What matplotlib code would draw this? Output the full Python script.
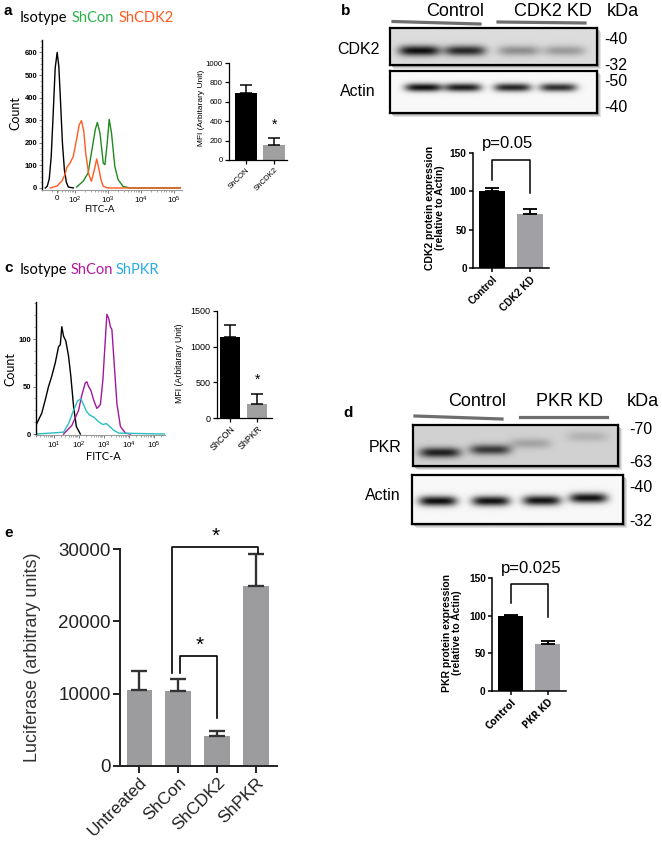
import numpy as np
import matplotlib
matplotlib.use('Agg')
import matplotlib.pyplot as plt
from matplotlib.patches import Rectangle
from matplotlib.lines import Line2D
from matplotlib.ticker import FixedLocator, AutoMinorLocator

plt.rcParams['font.family'] = ['Liberation Sans', 'DejaVu Sans']
plt.rcParams['mathtext.default'] = 'regular'

# ---------------- data ----------------
# panel a: flow histogram (x in decades of FITC-A, y = count)
a_iso_t = [1.10, 1.16, 1.22, 1.28, 1.34, 1.40, 1.46, 1.51, 1.56, 1.62, 1.68, 1.74, 1.80, 1.95]
a_iso_c = [0, 8, 40, 140, 330, 530, 600, 540, 390, 200, 80, 25, 4, 0]
a_con_t = [2.05, 2.25, 2.40, 2.55, 2.62, 2.68, 2.76, 2.86, 2.91, 2.98, 3.04, 3.11, 3.21, 3.31, 3.46, 3.67, 5.20]
a_con_c = [4, 30, 66, 199, 260, 290, 243, 110, 103, 199, 304, 243, 96, 37, 7, 0, 0]
a_cdk_t = [1.25, 1.45, 1.60, 1.70, 1.75, 1.85, 1.95, 2.05, 2.13, 2.20, 2.27, 2.33, 2.42, 2.50, 2.58, 2.66, 2.72, 2.79, 2.86, 3.0, 5.20]
a_cdk_c = [0, 8, 30, 60, 90, 110, 140, 215, 280, 298, 250, 150, 60, 30, 75, 128, 90, 37, 7, 0, 0]

# panel a: MFI bars
a_bar_lab = ['ShCON', 'ShCDK2']
a_bar_val = [690, 150]
a_bar_err = [770, 230]

# panel b: blot band intensities and quantification
b_cdk2_band = [0.80, 0.70, 0.30, 0.25]
b_actin_band = [0.90, 0.85, 0.82, 0.78]
b_bar_lab = ['Control', 'CDK2 KD']
b_bar_val = [100, 70]
b_bar_err = [104, 77]

# panel c: flow histogram
c_iso_t = [0.33, 0.53, 0.67, 0.80, 0.93, 1.07, 1.20, 1.27, 1.33, 1.40, 1.49, 1.60, 1.69, 1.80, 1.91, 2.07]
c_iso_c = [11, 22, 36, 50, 61, 75, 92, 94, 113, 103, 98, 82, 61, 29, 8, 0]
c_con_t = [1.40, 1.73, 2.00, 2.13, 2.27, 2.33, 2.40, 2.49, 2.60, 2.73, 2.87, 2.97, 3.05, 3.13, 3.20, 3.27, 3.33, 3.43, 3.53, 3.67, 3.87, 4.07]
c_con_c = [0, 9, 25, 41, 54, 55, 50, 46, 36, 27, 31, 57, 92, 126, 122, 113, 110, 71, 32, 8, 1, 0]
c_pkr_t = [0.31, 0.87, 1.40, 1.60, 1.80, 1.96, 2.09, 2.20, 2.31, 2.44, 2.60, 2.80, 2.97, 3.11, 3.24, 3.40, 3.60, 5.45]
c_pkr_c = [0, 1, 2, 11, 25, 35, 37, 31, 24, 20, 18, 13, 10, 11, 8, 4, 1, 0]

c_bar_lab = ['ShCON', 'ShPKR']
c_bar_val = [1140, 190]
c_bar_err = [1300, 340]

# panel d
d_pkr_band = [0.70, 0.60, 0.18, 0.12]
d_actin_band = [0.92, 0.90, 0.90, 0.90]
d_bar_lab = ['Control', 'PKR KD']
d_bar_val = [100, 62]
d_bar_err = [101, 66]

# panel e
e_lab = ['Untreated', 'ShCon', 'ShCDK2', 'ShPKR']
e_val = [10500, 10300, 4200, 24900]
e_err = [13100, 12000, 4900, 29300]

# ---------------- helpers ----------------
W, H = 662, 844
fig = plt.figure(figsize=(W / 100, H / 100), dpi=100)


def px_ax(x0, y0, x1, y1):
    return fig.add_axes([x0 / W, 1 - y1 / H, (x1 - x0) / W, (y1 - y0) / H])


def px_text(x, y, s, **kw):
    kw.setdefault('ha', 'left')
    kw.setdefault('va', 'center')
    return fig.text(x / W, 1 - y / H, s, **kw)


def px_line(xs, ys, **kw):
    fig.add_artist(Line2D([x / W for x in xs], [1 - y / H for y in ys], **kw))


def bar_chart(ax, labels, vals, errs, colors, width, ylim, yticks, fs, bold, cap, lw=1.0, ecol='black', lab_fs=None):
    x = np.arange(len(vals))
    ax.bar(x, vals, width, color=colors, edgecolor='none', zorder=2)
    up = np.array(errs) - np.array(vals)
    ax.errorbar(x, vals, yerr=[np.zeros(len(vals)), up], fmt='none', ecolor=ecol,
                elinewidth=lw * 1.2, capsize=cap, capthick=lw * 1.2, zorder=3)
    ax.set_ylim(*ylim)
    ax.set_yticks(yticks)
    ax.set_xticks(x)
    fw = 'bold' if bold else 'normal'
    ax.set_yticklabels([str(t) for t in yticks], fontsize=fs, fontweight=fw)
    ax.set_xticklabels(labels, rotation=45, ha='right', rotation_mode='anchor',
                       fontsize=lab_fs or fs, fontweight=fw)
    for s in ['top', 'right']:
        ax.spines[s].set_visible(False)
    for s in ['left', 'bottom']:
        ax.spines[s].set_linewidth(lw)
    ax.tick_params(width=lw, length=3, pad=1.5)
    ax.patch.set_alpha(0)


def histo(ax, curves, xlim, ylim, yticks, xticks, xticklabels):
    for t, c, col in curves:
        ax.plot(t, c, color=col, lw=1.0)
    ax.set_xlim(*xlim)
    ax.set_ylim(*ylim)
    ax.set_yticks(yticks)
    ax.set_yticklabels([str(v) for v in yticks], fontsize=5.5, fontweight='bold')
    ax.set_xticks(xticks)
    ax.set_xticklabels(xticklabels, fontsize=5.8)
    minors = [k + np.log10(m) for k in range(0, 6) for m in range(2, 10)]
    ax.xaxis.set_minor_locator(FixedLocator([v for v in minors if xlim[0] < v < xlim[1]]))
    ax.yaxis.set_minor_locator(AutoMinorLocator(4))
    for s in ['top', 'right']:
        ax.spines[s].set_visible(False)
    ax.spines['left'].set_linewidth(1.0)
    ax.spines['bottom'].set_color('#999999')
    ax.spines['bottom'].set_linewidth(0.8)
    ax.tick_params(axis='both', which='major', length=2.5, width=0.6, pad=1.0, color='#666666')
    ax.tick_params(axis='both', which='minor', length=1.5, width=0.5, color='#888888')
    ax.patch.set_alpha(0)


def blot(x0, y0, x1, y1, levels, lane_x, lane_y, band_w, band_h, bg):
    for off, col in [(4, '#e2e2e2'), (3, '#c8c8c8'), (2, '#a8a8a8')]:
        fig.add_artist(Rectangle(((x0 + off) / W, 1 - (y1 + off) / H), (x1 - x0) / W, (y1 - y0) / H,
                                 transform=fig.transFigure, facecolor=col, edgecolor='none', zorder=0))
    ax = px_ax(x0, y0, x1, y1)
    w, h = int(x1 - x0), int(y1 - y0)
    xx, yy = np.meshgrid(np.arange(w), np.arange(h))
    img = np.full((h, w), bg, dtype=float)
    for lev, cx, cy in zip(levels, lane_x, lane_y):
        img -= lev * np.exp(-np.abs((xx - cx * w) / (band_w * w / 2)) ** 4) \
                   * np.exp(-((yy - cy * h) / (band_h * h / 2)) ** 2)
    ax.imshow(np.clip(img, 0, 1), cmap='gray', vmin=0, vmax=1, aspect='auto', interpolation='bilinear')
    ax.set_xticks([])
    ax.set_yticks([])
    for s in ax.spines.values():
        s.set_linewidth(1.6)
    ax.set_zorder(2)
    return ax


def bracket(ax, x0, x1, y_top, y0, y1, lw=1.0):
    ax.plot([x0, x0, x1, x1], [y0, y_top, y_top, y1], color='black', lw=lw, clip_on=False, zorder=4)


# ---------------- panel a ----------------
px_text(4, 11, 'a', fontsize=11, fontweight='bold')
px_text(20, 18, 'Isotype', fontsize=10.5, family=['Lato', 'DejaVu Sans'])
px_text(72, 18, 'ShCon', fontsize=10.5, color='#2bb34a', family=['Lato', 'DejaVu Sans'])
px_text(119, 18, 'ShCDK2', fontsize=10.5, color='#ff5a1f', family=['Lato', 'DejaVu Sans'])

ax = px_ax(42, 40, 182, 190)
histo(ax, [(a_iso_t, a_iso_c, 'black'), (a_con_t, a_con_c, '#1f8a1f'), (a_cdk_t, a_cdk_c, '#ff5a1f')],
      (1.0, 5.25), (-9, 655), [0, 100, 200, 300, 400, 500, 600],
      [1.45, 2, 3, 4, 5], ['0', '$10^2$', '$10^3$', '$10^4$', '$10^5$'])
px_text(15, 113, 'Count', fontsize=9, rotation=90, ha='center', family=['Lato', 'DejaVu Sans'])
px_text(99, 210, 'FITC-A', fontsize=7, ha='center', family=['Lato', 'DejaVu Sans'])

ax = px_ax(229, 63, 287, 160)
bar_chart(ax, a_bar_lab, a_bar_val, a_bar_err, ['black', '#a0a0a0'], 0.78, (0, 1000),
          [0, 200, 400, 600, 800, 1000], 5.6, False, 4.5, lw=0.9)
ax.set_xlim(-0.6, 1.46)
ax.text(1, 360, '*', fontsize=10, ha='center', va='center')
px_text(201, 108, 'MFI (Arbitarary Unit)', fontsize=6, rotation=90, ha='center')

# ---------------- panel b ----------------
px_text(341, 11, 'b', fontsize=11, fontweight='bold')
px_text(455, 11, 'Control', fontsize=13, ha='center')
px_text(553, 11, 'CDK2 KD', fontsize=13, ha='center')
px_text(623, 11, 'kDa', fontsize=13, ha='center')
px_line([393, 480], [21.5, 24], color='#6e6e6e', lw=2.3)
px_line([498, 585], [22, 23], color='#6e6e6e', lw=2.3)

blot(390, 28, 597, 65, b_cdk2_band, [0.14, 0.36, 0.62, 0.84], [0.6, 0.6, 0.6, 0.6], 0.2, 0.28, 0.86)
blot(390, 71, 597, 113, b_actin_band, [0.16, 0.35, 0.59, 0.81], [0.38, 0.38, 0.38, 0.38], 0.18, 0.2, 0.97)
px_text(358, 50, 'CDK2', fontsize=11.5, ha='center')
px_text(358, 92, 'Actin', fontsize=11.5, ha='center')
for y, s in [(39, '-40'), (66, '-32'), (81, '-50'), (108, '-40')]:
    px_text(604, y, s, fontsize=11.5)

ax = px_ax(473, 153, 549, 268)
bar_chart(ax, b_bar_lab, b_bar_val, b_bar_err, ['black', '#a0a0a5'], 0.68, (0, 150),
          [0, 50, 100, 150], 7.3, True, 5, lw=1.1)
ax.set_xlim(-0.5, 1.5)
bracket(ax, 0, 1, 141, 115, 98, lw=1.1)
ax.text(0.42, 162, 'p=0.05', fontsize=12, ha='center', va='center')
px_text(435, 208, 'CDK2 protein expression\n(relative to Actin)', fontsize=7.5, fontweight='bold',
        rotation=90, ha='center', multialignment='center', linespacing=1.1)

# ---------------- panel c ----------------
px_text(4, 268, 'c', fontsize=11, fontweight='bold')
px_text(20, 270, 'Isotype', fontsize=10.5, family=['Lato', 'DejaVu Sans'])
px_text(71, 270, 'ShCon', fontsize=10.5, color='#b5179e', family=['Lato', 'DejaVu Sans'])
px_text(116, 270, 'ShPKR', fontsize=10.5, color='#29abe2', family=['Lato', 'DejaVu Sans'])

ax = px_ax(36, 302, 165, 435)
histo(ax, [(c_iso_t, c_iso_c, 'black'), (c_con_t, c_con_c, '#a0189e'), (c_pkr_t, c_pkr_c, '#2bbfbf')],
      (0.3, 5.45), (-1, 139), [0, 50, 100],
      [1, 2, 3, 4, 5], ['$10^1$', '$10^2$', '$10^3$', '$10^4$', '$10^5$'])
px_text(10, 369, 'Count', fontsize=9, rotation=90, ha='center', family=['Lato', 'DejaVu Sans'])
px_text(103, 456, 'FITC-A', fontsize=8, ha='center', family=['Lato', 'DejaVu Sans'])

ax = px_ax(217, 311, 272, 418)
bar_chart(ax, c_bar_lab, c_bar_val, c_bar_err, ['black', '#a0a0a0'], 0.74, (0, 1500),
          [0, 500, 1000, 1500], 6.5, False, 4.5, lw=0.9)
ax.set_xlim(-0.48, 1.55)
ax.text(1, 533, '*', fontsize=10, ha='center', va='center')
px_text(180, 363, 'MFI (Arbitarary Unit)', fontsize=6.3, rotation=90, ha='center')

# ---------------- panel d ----------------
px_text(343, 413, 'd', fontsize=11, fontweight='bold')
px_text(477, 402, 'Control', fontsize=13, ha='center')
px_text(570, 402, 'PKR KD', fontsize=13, ha='center')
px_text(643, 402, 'kDa', fontsize=13, ha='center')
px_line([415, 502], [416, 419], color='#6e6e6e', lw=2.3)
px_line([520, 607], [417, 417], color='#6e6e6e', lw=2.3)

blot(413, 425, 618, 466, d_pkr_band, [0.13, 0.375, 0.57, 0.85], [0.66, 0.59, 0.44, 0.27], 0.2, 0.25, 0.82)
blot(412, 475, 623, 524, d_actin_band, [0.12, 0.37, 0.61, 0.83], [0.53, 0.53, 0.52, 0.47], 0.18, 0.2, 0.97)
px_text(385, 447, 'PKR', fontsize=11.5, ha='center')
px_text(383, 495, 'Actin', fontsize=11.5, ha='center')
for y, s in [(430, '-70'), (462, '-63'), (487, '-40'), (521, '-32')]:
    px_text(629, y, s, fontsize=11.5)

ax = px_ax(492, 578, 566, 691)
bar_chart(ax, d_bar_lab, d_bar_val, d_bar_err, ['black', '#a0a0a5'], 0.7, (0, 150),
          [0, 50, 100, 150], 7.3, True, 5, lw=1.1)
ax.set_xticklabels(d_bar_lab, rotation=45, ha='right', rotation_mode='anchor',
                   fontsize=7.5, fontweight='bold', family=['Open Sans', 'DejaVu Sans'])
ax.set_xlim(-0.5, 1.5)
bracket(ax, 0, 1, 142, 117, 98, lw=1.1)
ax.text(0.55, 163, 'p=0.025', fontsize=12, ha='center', va='center')
px_text(452, 633, 'PKR protein expression\n(relative to Actin)', fontsize=7.5, fontweight='bold',
        rotation=90, ha='center', multialignment='center', linespacing=1.1)

# ---------------- panel e ----------------
px_text(4, 533, 'e', fontsize=11, fontweight='bold')
ax = px_ax(120, 549, 277, 766)
bar_chart(ax, e_lab, e_val, e_err, '#9c9c9e', 0.66, (0, 30000),
          [0, 10000, 20000, 30000], 13.5, False, 6, lw=1.4, ecol='#333333', lab_fs=12.5)
ax.set_xlim(-0.5, 3.54)
ax.tick_params(length=5, colors='#222222')
for s in ['left', 'bottom']:
    ax.spines[s].set_color('#222222')
bracket(ax, 0.83, 3.05, 30300, 12800, 29500, lw=1.2)
bracket(ax, 1.04, 2.0, 15200, 12800, 6600, lw=1.2)
ax.text(1.95, 31800, '*', fontsize=15, ha='center', va='center')
ax.text(1.55, 16700, '*', fontsize=15, ha='center', va='center')
px_text(33, 657, 'Luciferase (arbitrary units)', fontsize=13, rotation=90, ha='center', color='#333333')

fig.savefig('out.png', dpi=100)
